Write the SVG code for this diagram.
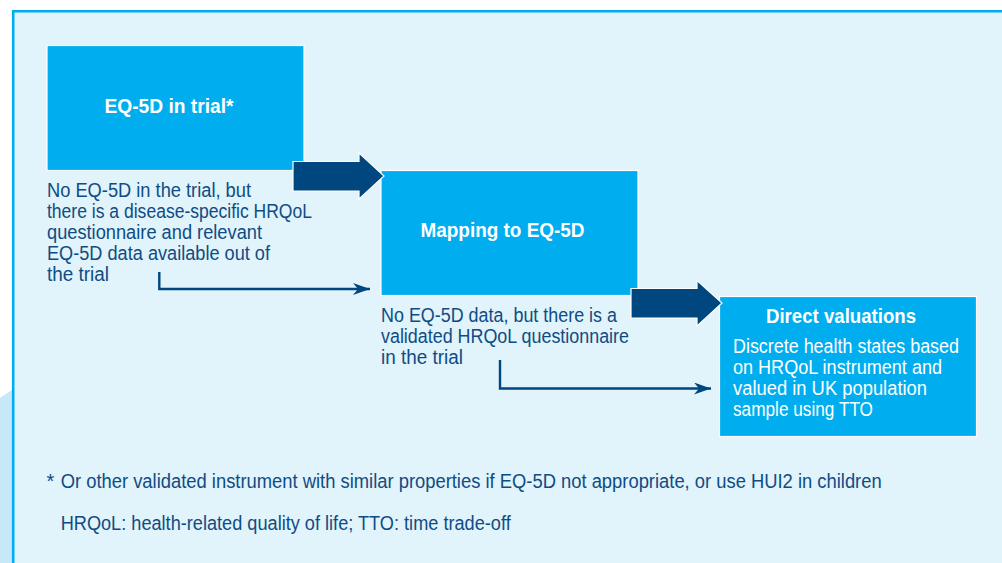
<svg xmlns="http://www.w3.org/2000/svg" width="1002" height="563" viewBox="0 0 1002 563">
  <defs>
    <style>
      .box { fill: #00aeef; stroke: #ffffff; stroke-width: 1.2; }
      .big-arrow { fill: #00467f; stroke: #ffffff; stroke-width: 1.2; stroke-linejoin: miter; }
      .link { fill: none; stroke: #00467f; stroke-width: 2.4; }
      .title { font-family: "Liberation Sans", Arial, sans-serif; font-size: 20px; font-weight: bold; fill: #ffffff; }
      .inbox { font-family: "Liberation Sans", Arial, sans-serif; font-size: 20px; fill: #ffffff; }
      .body { font-family: "Liberation Sans", Arial, sans-serif; font-size: 20px; fill: #0f4c84; }
    </style>
    <marker id="head" viewBox="0 0 17 12" markerWidth="17" markerHeight="12" refX="17" refY="6" markerUnits="userSpaceOnUse" orient="auto">
      <path d="M0,0 L17,6 L0,12 L5,6 Z" fill="#00467f"/>
    </marker>
  </defs>

  <!-- page background and framed panel -->
  <rect x="0" y="0" width="1002" height="563" fill="#ffffff"/>
  <polygon points="0,398 12,390 12,563 0,563" fill="#c6e8f8"/>
  <rect x="12" y="10" width="992" height="556" fill="#e1f3fb"/>
  <path d="M13.2,563 V11.2 H1002" fill="none" stroke="#00aeef" stroke-width="2.6"/>

  <!-- step 1 -->
  <g id="node-eq5d-trial">
    <rect class="box" x="47" y="45.5" width="257" height="125"/>
    <text class="title" x="104.5" y="113" textLength="129" lengthAdjust="spacingAndGlyphs">EQ-5D in trial*</text>
    <text class="body" x="47" y="197" textLength="204" lengthAdjust="spacingAndGlyphs">No EQ-5D in the trial, but</text>
    <text class="body" x="47" y="218" textLength="265" lengthAdjust="spacingAndGlyphs">there is a disease-specific HRQoL</text>
    <text class="body" x="47" y="239" textLength="215" lengthAdjust="spacingAndGlyphs">questionnaire and relevant</text>
    <text class="body" x="47" y="260" textLength="223" lengthAdjust="spacingAndGlyphs">EQ-5D data available out of</text>
    <text class="body" x="47" y="280.5" textLength="62" lengthAdjust="spacingAndGlyphs">the trial</text>
  </g>

  <!-- step 2 -->
  <g id="node-mapping">
    <rect class="box" x="381" y="170.5" width="257" height="125"/>
    <text class="title" x="420.5" y="237" textLength="164" lengthAdjust="spacingAndGlyphs">Mapping to EQ-5D</text>
    <text class="body" x="381" y="322" textLength="236" lengthAdjust="spacingAndGlyphs">No EQ-5D data, but there is a</text>
    <text class="body" x="381" y="343" textLength="248" lengthAdjust="spacingAndGlyphs">validated HRQoL questionnaire</text>
    <text class="body" x="381" y="364" textLength="82" lengthAdjust="spacingAndGlyphs">in the trial</text>
  </g>

  <!-- step 3 -->
  <g id="node-direct">
    <rect class="box" x="719.5" y="296.5" width="257" height="140"/>
    <text class="title" x="766" y="323" textLength="150" lengthAdjust="spacingAndGlyphs">Direct valuations</text>
    <text class="inbox" x="733" y="352.5" textLength="226" lengthAdjust="spacingAndGlyphs">Discrete health states based</text>
    <text class="inbox" x="733" y="374" textLength="209" lengthAdjust="spacingAndGlyphs">on HRQoL instrument and</text>
    <text class="inbox" x="733" y="395" textLength="194" lengthAdjust="spacingAndGlyphs">valued in UK population</text>
    <text class="inbox" x="733" y="416" textLength="140" lengthAdjust="spacingAndGlyphs">sample using TTO</text>
  </g>

  <!-- connectors -->
  <g id="connectors">
    <polygon class="big-arrow" points="293,161.5 359,161.5 359,153 384,176 359,199 359,191 293,191"/>
    <polygon class="big-arrow" points="631,288.5 697,288.5 697,280.5 722,303 697,326 697,318 631,318"/>
    <path class="link" d="M159.3,272 V289 H370" marker-end="url(#head)"/>
    <path class="link" d="M500,360 V388.5 H711" marker-end="url(#head)"/>
  </g>

  <!-- footnotes -->
  <g id="notes">
    <text class="body" x="46.5" y="488">*</text>
    <text class="body" x="60.7" y="488" textLength="821" lengthAdjust="spacingAndGlyphs">Or other validated instrument with similar properties if EQ-5D not appropriate, or use HUI2 in children</text>
    <text class="body" x="60.7" y="529.5" textLength="450" lengthAdjust="spacingAndGlyphs">HRQoL: health-related quality of life; TTO: time trade-off</text>
  </g>
</svg>
